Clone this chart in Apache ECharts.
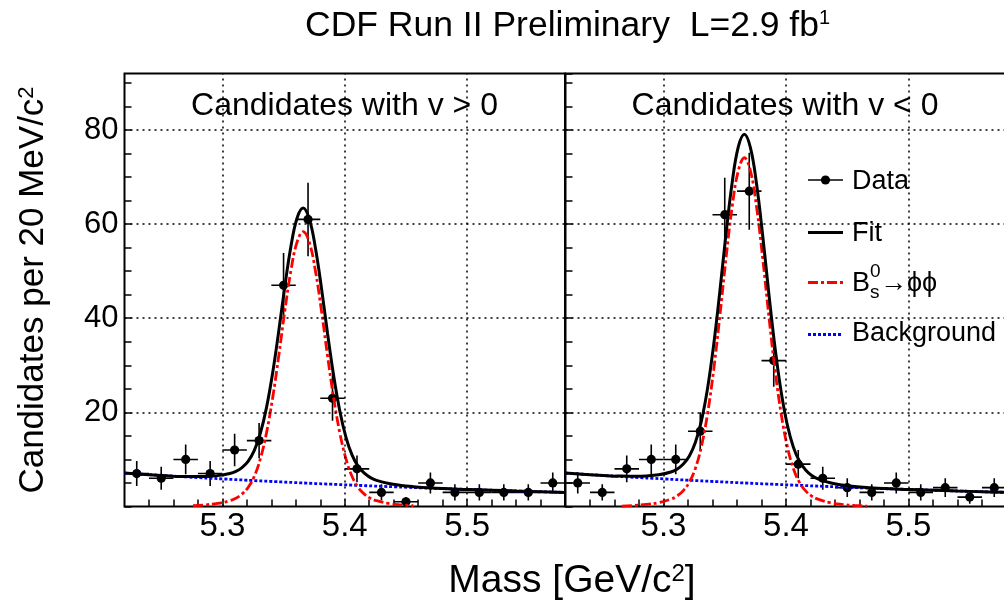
<!DOCTYPE html>
<html>
<head>
<meta charset="utf-8">
<script src="https://cdn.jsdelivr.net/npm/echarts@6.0.0/dist/echarts.min.js"></script>
<style>
  html, body { margin: 0; padding: 0; background: #fff; }
  #chart { width: 1004px; height: 605px; }
</style>
</head>
<body>
<div id="chart"></div>
<script>
const FONT = '"Liberation Sans", Arial, Helvetica, sans-serif'

// 20 MeV bin centres and counts per bin
const massBins = [5.23, 5.25, 5.27, 5.29, 5.31, 5.33, 5.35, 5.37, 5.39, 5.41, 5.43, 5.45, 5.47, 5.49, 5.51, 5.53, 5.55, 5.57]
const countsPos = [7, 6, 10, 7, 12, 14, 47, 61, 23, 8, 3, 1, 5, 3, 3, 3, 3, 5]
const countsNeg = [5, 3, 8, 10, 10, 16, 62, 67, 31, 9, 6, 4, 3, 5, 3, 4, 2, 4]

// fit curves at these masses
const curveMass = [5.22, 5.24, 5.26, 5.266, 5.276, 5.286, 5.296, 5.306,
  5.311, 5.316, 5.321, 5.326, 5.331, 5.336, 5.341, 5.346, 5.351, 5.356, 5.361, 5.366,
  5.371, 5.376, 5.381, 5.386, 5.391, 5.396, 5.401, 5.406, 5.411, 5.416, 5.421, 5.426,
  5.436, 5.446, 5.456, 5.466, 5.48, 5.50, 5.52, 5.54, 5.56, 5.58]
const bkgCurve = [7.10, 6.77, 6.45, 6.36, 6.21, 6.06, 5.92, 5.78,
  5.71, 5.64, 5.57, 5.51, 5.44, 5.37, 5.31, 5.25, 5.18, 5.12, 5.06, 5.00,
  4.94, 4.88, 4.82, 4.77, 4.71, 4.65, 4.60, 4.54, 4.49, 4.44, 4.38, 4.33,
  4.23, 4.13, 4.03, 3.93, 3.80, 3.63, 3.46, 3.29, 3.14, 2.99]
const sigPos = [null, null, null, null, 0.18, 0.35, 0.64, 1.23,
  1.75, 2.63, 4.03, 6.37, 10.10, 15.59, 22.95, 31.89, 41.52, 50.11, 56.18, 58.40,
  56.18, 50.11, 41.52, 31.89, 22.95, 15.59, 10.10, 6.37, 4.03, 2.63, 1.75, 1.23,
  0.64, 0.35, 0.18, null, null, null, null, null, null, null]
const fitPos = [7.10, 6.77, 6.45, 6.40, 6.38, 6.40, 6.56, 7.01,
  7.46, 8.27, 9.60, 11.88, 15.54, 20.96, 28.26, 37.14, 46.70, 55.23, 61.24, 63.40,
  61.12, 54.99, 46.34, 36.66, 27.66, 20.24, 14.70, 10.91, 8.52, 7.07, 6.13, 5.56,
  4.87, 4.48, 4.21, 4.01, 3.80, 3.63, 3.46, 3.29, 3.14, 2.99]
const sigNeg = [null, null, null, 0.10, 0.22, 0.44, 0.82, 1.56,
  2.22, 3.33, 5.11, 8.08, 12.82, 19.78, 29.12, 40.46, 52.69, 63.58, 71.28, 74.10,
  71.28, 63.58, 52.69, 40.46, 29.12, 19.78, 12.82, 8.08, 5.11, 3.33, 2.22, 1.56,
  0.82, 0.44, 0.22, 0.10, null, null, null, null, null, null]
const fitNeg = [7.10, 6.77, 6.45, 6.46, 6.43, 6.50, 6.74, 7.34,
  7.93, 8.97, 10.68, 13.59, 18.26, 25.15, 34.43, 45.71, 57.87, 68.70, 76.34, 79.10,
  76.22, 68.46, 57.51, 45.23, 33.83, 24.43, 17.42, 12.62, 9.60, 7.77, 6.60, 5.89,
  5.05, 4.57, 4.25, 4.03, 3.80, 3.63, 3.46, 3.29, 3.14, 2.99]

// dotted grid lines
const massGridLines = [5.3, 5.4, 5.5]
const countGridLines = [20, 40, 60, 80]

const chart = echarts.init(document.getElementById('chart'), null, { renderer: 'canvas' })

const toPairs = (ys) => curveMass.map((m, i) => [m, ys[i]]).filter((p) => p[1] !== null)

function renderPoint(params, api) {
  const m = api.value(0)
  const n = api.value(1)
  const err = Math.sqrt(n) // poisson error
  const c = api.coord([m, n])
  const top = api.coord([m, n + err])
  const bot = api.coord([m, Math.max(n - err, 0)])
  const lo = api.coord([m - 0.01, n])
  const hi = api.coord([m + 0.01, n])
  const st = { stroke: '#000', lineWidth: 1.6 }
  return {
    type: 'group',
    children: [
      { type: 'line', shape: { x1: c[0], y1: top[1], x2: c[0], y2: bot[1] }, style: st },
      { type: 'line', shape: { x1: lo[0], y1: c[1], x2: hi[0], y2: c[1] }, style: st },
      { type: 'circle', shape: { cx: c[0], cy: c[1], r: 4.6 }, style: { fill: '#000' } },
    ],
  }
}

const xAxisFor = (gridIndex) => ({
  type: 'value',
  gridIndex,
  min: 5.22,
  max: 5.58,
  interval: 0.02,
  axisLine: { show: false },
  axisTick: { inside: true, length: 7, lineStyle: { color: '#000', width: 1.5 } },
  axisLabel: {
    fontSize: 33,
    fontFamily: FONT,
    color: '#000',
    margin: 4,
    showMinLabel: false,
    showMaxLabel: false,
    formatter: (v) => (Math.round(v * 100) % 10 === 0 ? v.toFixed(1) : ''),
  },
  splitLine: { show: false },
})

const yAxisFor = (gridIndex, showLabels) => ({
  type: 'value',
  gridIndex,
  min: 0,
  max: 92,
  interval: 5,
  axisLine: { show: false },
  axisTick: { inside: true, length: 7, lineStyle: { color: '#000', width: 1.5 } },
  axisLabel: {
    show: showLabels,
    fontSize: 31,
    fontFamily: FONT,
    color: '#000',
    margin: 6,
    showMaxLabel: false,
    formatter: (v) => (v > 0 && v % 20 === 0 ? String(v) : ''),
  },
  splitLine: { show: false },
})

const gridMarks = {
  silent: true,
  symbol: ['none', 'none'],
  label: { show: false },
  lineStyle: { type: [2, 4], color: '#000', width: 1.5 },
  data: [
    ...massGridLines.map((v) => ({ xAxis: v })),
    ...countGridLines.map((v) => ({ yAxis: v })),
  ],
}

function panelSeries(i, sig, fit, counts) {
  return [
    {
      name: 'Background', type: 'line', xAxisIndex: i, yAxisIndex: i,
      data: toPairs(bkgCurve), showSymbol: false, smooth: 0.3,
      lineStyle: { color: '#0000ff', width: 2.8, type: [3, 2] },
      markLine: gridMarks,
    },
    {
      name: 'Signal', type: 'line', xAxisIndex: i, yAxisIndex: i,
      data: toPairs(sig), showSymbol: false, smooth: 0.4,
      lineStyle: { color: '#ff0000', width: 2.8, type: [10, 3, 3, 3] },
    },
    {
      name: 'Fit', type: 'line', xAxisIndex: i, yAxisIndex: i,
      data: toPairs(fit), showSymbol: false, smooth: 0.4,
      lineStyle: { color: '#000', width: 3 },
    },
    {
      name: 'Data', type: 'custom', xAxisIndex: i, yAxisIndex: i, clip: true,
      renderItem: renderPoint,
      data: massBins.map((m, k) => [m, counts[k]]),
    },
  ]
}

const text = (x, y, str, size, extra) => ({
  type: 'text', x, y, silent: true,
  style: Object.assign({ text: str, fill: '#000', fontSize: size, fontFamily: FONT, verticalAlign: 'middle' }, extra || {}),
})

const legendX1 = 808, legendX2 = 843, legendTextX = 852

const option = {
  animation: false,
  backgroundColor: '#fff',
  grid: [
    { left: 124.5, top: 73.5, width: 440.5, height: 433, show: true, borderColor: '#000', borderWidth: 2, outerBoundsMode: 'none' },
    { left: 565.5, top: 73.5, width: 441, height: 433, show: true, borderColor: '#000', borderWidth: 2, outerBoundsMode: 'none' },
  ],
  xAxis: [xAxisFor(0), xAxisFor(1)],
  yAxis: [
    Object.assign(yAxisFor(0, true), {
      name: 'Candidates per 20 MeV/c{sup|2}',
      nameLocation: 'middle',
      nameRotate: 90,
      nameGap: 74,
      nameTextStyle: {
        fontSize: 35, fontFamily: FONT, color: '#000',
        rich: { sup: { fontSize: 22, fontFamily: FONT, color: '#000', verticalAlign: 'top' } },
      },
    }),
    yAxisFor(1, false),
  ],
  series: [
    ...panelSeries(0, sigPos, fitPos, countsPos),
    ...panelSeries(1, sigNeg, fitNeg, countsNeg),
  ],
  graphic: [
    text(305, 26.5, 'CDF Run II Preliminary  L=2.9 fb{sup|1}', 35.5, {
      rich: { sup: { fontSize: 20, fontFamily: FONT, fill: '#000', verticalAlign: 'top' } },
    }),
    text(344.5, 106, 'Candidates with v > 0', 32, { align: 'center' }),
    text(785, 106, 'Candidates with v < 0', 32, { align: 'center' }),
    text(572, 581.5, 'Mass [GeV/c{sup|2}]', 39, {
      align: 'center',
      rich: { sup: { fontSize: 24, fontFamily: FONT, fill: '#000', verticalAlign: 'top' } },
    }),
    // legend
    { type: 'line', silent: true, shape: { x1: legendX1, y1: 180, x2: legendX2, y2: 180 }, style: { stroke: '#000', lineWidth: 1.6 } },
    { type: 'circle', silent: true, shape: { cx: (legendX1 + legendX2) / 2, cy: 180, r: 4.6 }, style: { fill: '#000' } },
    text(legendTextX, 181.5, 'Data', 27),
    { type: 'line', silent: true, shape: { x1: legendX1, y1: 232.5, x2: legendX2, y2: 232.5 }, style: { stroke: '#000', lineWidth: 3 } },
    text(legendTextX, 233.5, 'Fit', 27),
    { type: 'line', silent: true, shape: { x1: legendX1, y1: 282.5, x2: legendX2, y2: 282.5 }, style: { stroke: '#ff0000', lineWidth: 2.8, lineDash: [10, 3, 3, 3] } },
    text(legendTextX, 284, 'B', 27),
    text(870, 271.5, '0', 19),
    text(870, 293, 's', 19),
    text(880, 284, '\u2192\u03d5\u03d5', 27),
    { type: 'line', silent: true, shape: { x1: legendX1, y1: 334.5, x2: legendX2, y2: 334.5 }, style: { stroke: '#0000ff', lineWidth: 2.8, lineDash: [3, 2] } },
    text(legendTextX, 333.5, 'Background', 27),
  ],
}

chart.setOption(option)
</script>
</body>
</html>
